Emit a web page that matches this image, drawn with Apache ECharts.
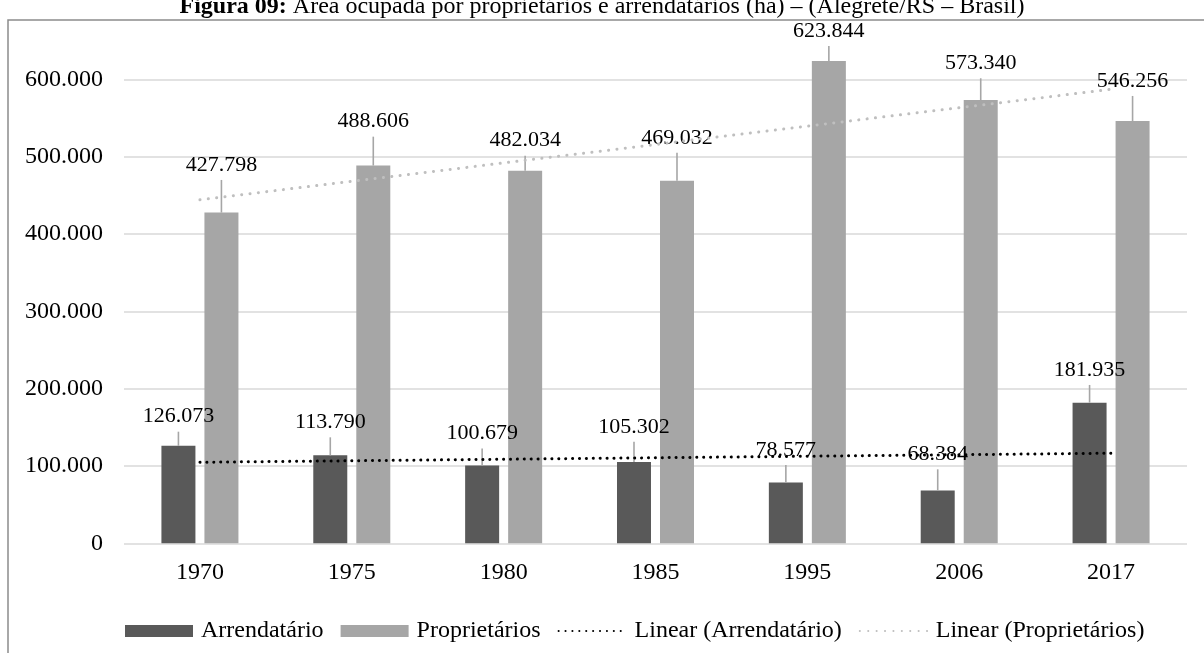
<!DOCTYPE html>
<html>
<head>
<meta charset="utf-8">
<script src="https://cdn.jsdelivr.net/npm/echarts@6/dist/echarts.min.js"></script>
<style>
html,body{margin:0;padding:0;background:#fff;}
#chart{width:1204px;height:653px;}
</style>
</head>
<body>
<div id="chart"></div>
<script>
const categories = ['1970', '1975', '1980', '1985', '1995', '2006', '2017'];
const arrendatario = [126073, 113790, 100679, 105302, 78577, 68384, 181935];
const proprietarios = [427798, 488606, 482034, 469032, 623844, 573340, 546256];
const arrendatarioErr = [18300, 23300, 22000, 26000, 22700, 27300, 22900];
const proprietariosErr = [42200, 37400, 19400, 36000, 19500, 28200, 32400];
const seriesNames = ['Arrendatário', 'Proprietários', 'Linear (Arrendatário)', 'Linear (Proprietários)'];
const yMin = 0, yMax = 650000, yStep = 100000;

const FONT = '"Liberation Serif", "Times New Roman", serif';

function fmt(v) {
  return String(Math.round(v)).replace(/\B(?=(\d{3})+(?!\d))/g, '.');
}

// least squares linear trend (as Excel's linear trendline, x = 1..n)
function linearTrend(ys) {
  const n = ys.length;
  let sx = 0, sy = 0, sxy = 0, sxx = 0;
  ys.forEach((y, i) => { const x = i + 1; sx += x; sy += y; sxy += x * y; sxx += x * x; });
  const b = (n * sxy - sx * sy) / (n * sxx - sx * sx);
  const a = (sy - b * sx) / n;
  return ys.map((_, i) => a + b * (i + 1));
}

function errSeries(values, errs, offset) {
  return {
    type: 'custom',
    silent: true,
    z: 5,
    data: values.map((v, i) => [i, v, errs[i]]),
    renderItem: function (params, api) {
      const i = api.value(0), v = api.value(1), e = api.value(2);
      const base = api.coord([i, v]);
      const top = api.coord([i, v + e]);
      const x = base[0] + offset;
      return {
        type: 'group',
        children: [
          { type: 'line', shape: { x1: x, y1: base[1], x2: x, y2: top[1] },
            style: { stroke: '#a6a6a6', lineWidth: 1.6 } },
          { type: 'text', x: x, y: top[1] - 15,
            style: { text: fmt(v), font: '22px ' + FONT, fill: '#000', align: 'center', verticalAlign: 'middle' } }
        ]
      };
    }
  };
}

const chart = echarts.init(document.getElementById('chart'), null, { renderer: 'canvas' });
const splitColors = [];
for (let v = yMin; v <= 600000; v += yStep) splitColors.push('#d9d9d9');
splitColors.push('rgba(0,0,0,0)');

chart.setOption({
  animation: false,
  backgroundColor: '#fff',
  textStyle: { fontFamily: FONT },
  title: {
    left: 'center',
    top: -10,
    text: '{b|Figura 09:}{n| Área ocupada por proprietários e arrendatários (ha) – (Alegrete/RS – Brasil)}',
    textStyle: {
      fontWeight: 'normal',
      rich: {
        b: { fontFamily: FONT, fontSize: 24, fontWeight: 'bold', color: '#000' },
        n: { fontFamily: FONT, fontSize: 24, fontWeight: 'normal', color: '#000' }
      }
    }
  },
  graphic: [{
    type: 'rect', silent: true, z: -10,
    shape: { x: 8, y: 20, width: 1400, height: 1000 },
    style: { fill: 'none', stroke: '#8c8c8c', lineWidth: 1.5 }
  }],
  grid: { left: 124, right: 17, top: 40.8, bottom: 653 - 543.3, containLabel: false },
  legend: {
    data: [
      { name: seriesNames[0], icon: 'rect' },
      { name: seriesNames[1], icon: 'rect' },
      { name: seriesNames[2], itemStyle: { color: 'rgba(0,0,0,0)', opacity: 0 } },
      { name: seriesNames[3], itemStyle: { color: 'rgba(0,0,0,0)', opacity: 0 } }
    ],
    bottom: 5,
    left: 120,
    itemWidth: 68,
    itemHeight: 12,
    itemGap: 17,
    textStyle: { fontFamily: FONT, fontSize: 24, color: '#000', padding: [0, 0, 0, 3] }
  },
  xAxis: {
    type: 'category',
    data: categories,
    axisLine: { show: false },
    axisTick: { show: false },
    axisLabel: { fontFamily: FONT, fontSize: 24, color: '#000', margin: 17 }
  },
  yAxis: {
    type: 'value',
    min: yMin, max: yMax, interval: yStep,
    axisLine: { show: false },
    axisTick: { show: false },
    axisLabel: { fontFamily: FONT, fontSize: 24, color: '#000', margin: 21, showMaxLabel: false, formatter: fmt },
    splitLine: { lineStyle: { color: splitColors, width: 1.5 } }
  },
  series: [
    { name: seriesNames[0], type: 'bar', data: arrendatario, barWidth: 34, barGap: '26.5%',
      itemStyle: { color: '#595959' } },
    { name: seriesNames[1], type: 'bar', data: proprietarios, barWidth: 34, barGap: '26.5%',
      itemStyle: { color: '#a6a6a6' } },
    errSeries(arrendatario, arrendatarioErr, -21.5),
    errSeries(proprietarios, proprietariosErr, 21.5),
    { name: seriesNames[2], type: 'line', data: linearTrend(arrendatario), symbol: 'none', z: 8, silent: true,
      itemStyle: { color: '#000' },
      lineStyle: { color: '#000', width: 3, type: [0.1, 6.8], cap: 'round' } },
    { name: seriesNames[3], type: 'line', data: linearTrend(proprietarios), symbol: 'none', z: 8, silent: true,
      itemStyle: { color: '#bfbfbf' },
      lineStyle: { color: '#bfbfbf', width: 3, type: [0.1, 8.3], cap: 'round' } }
  ]
});
</script>
</body>
</html>
